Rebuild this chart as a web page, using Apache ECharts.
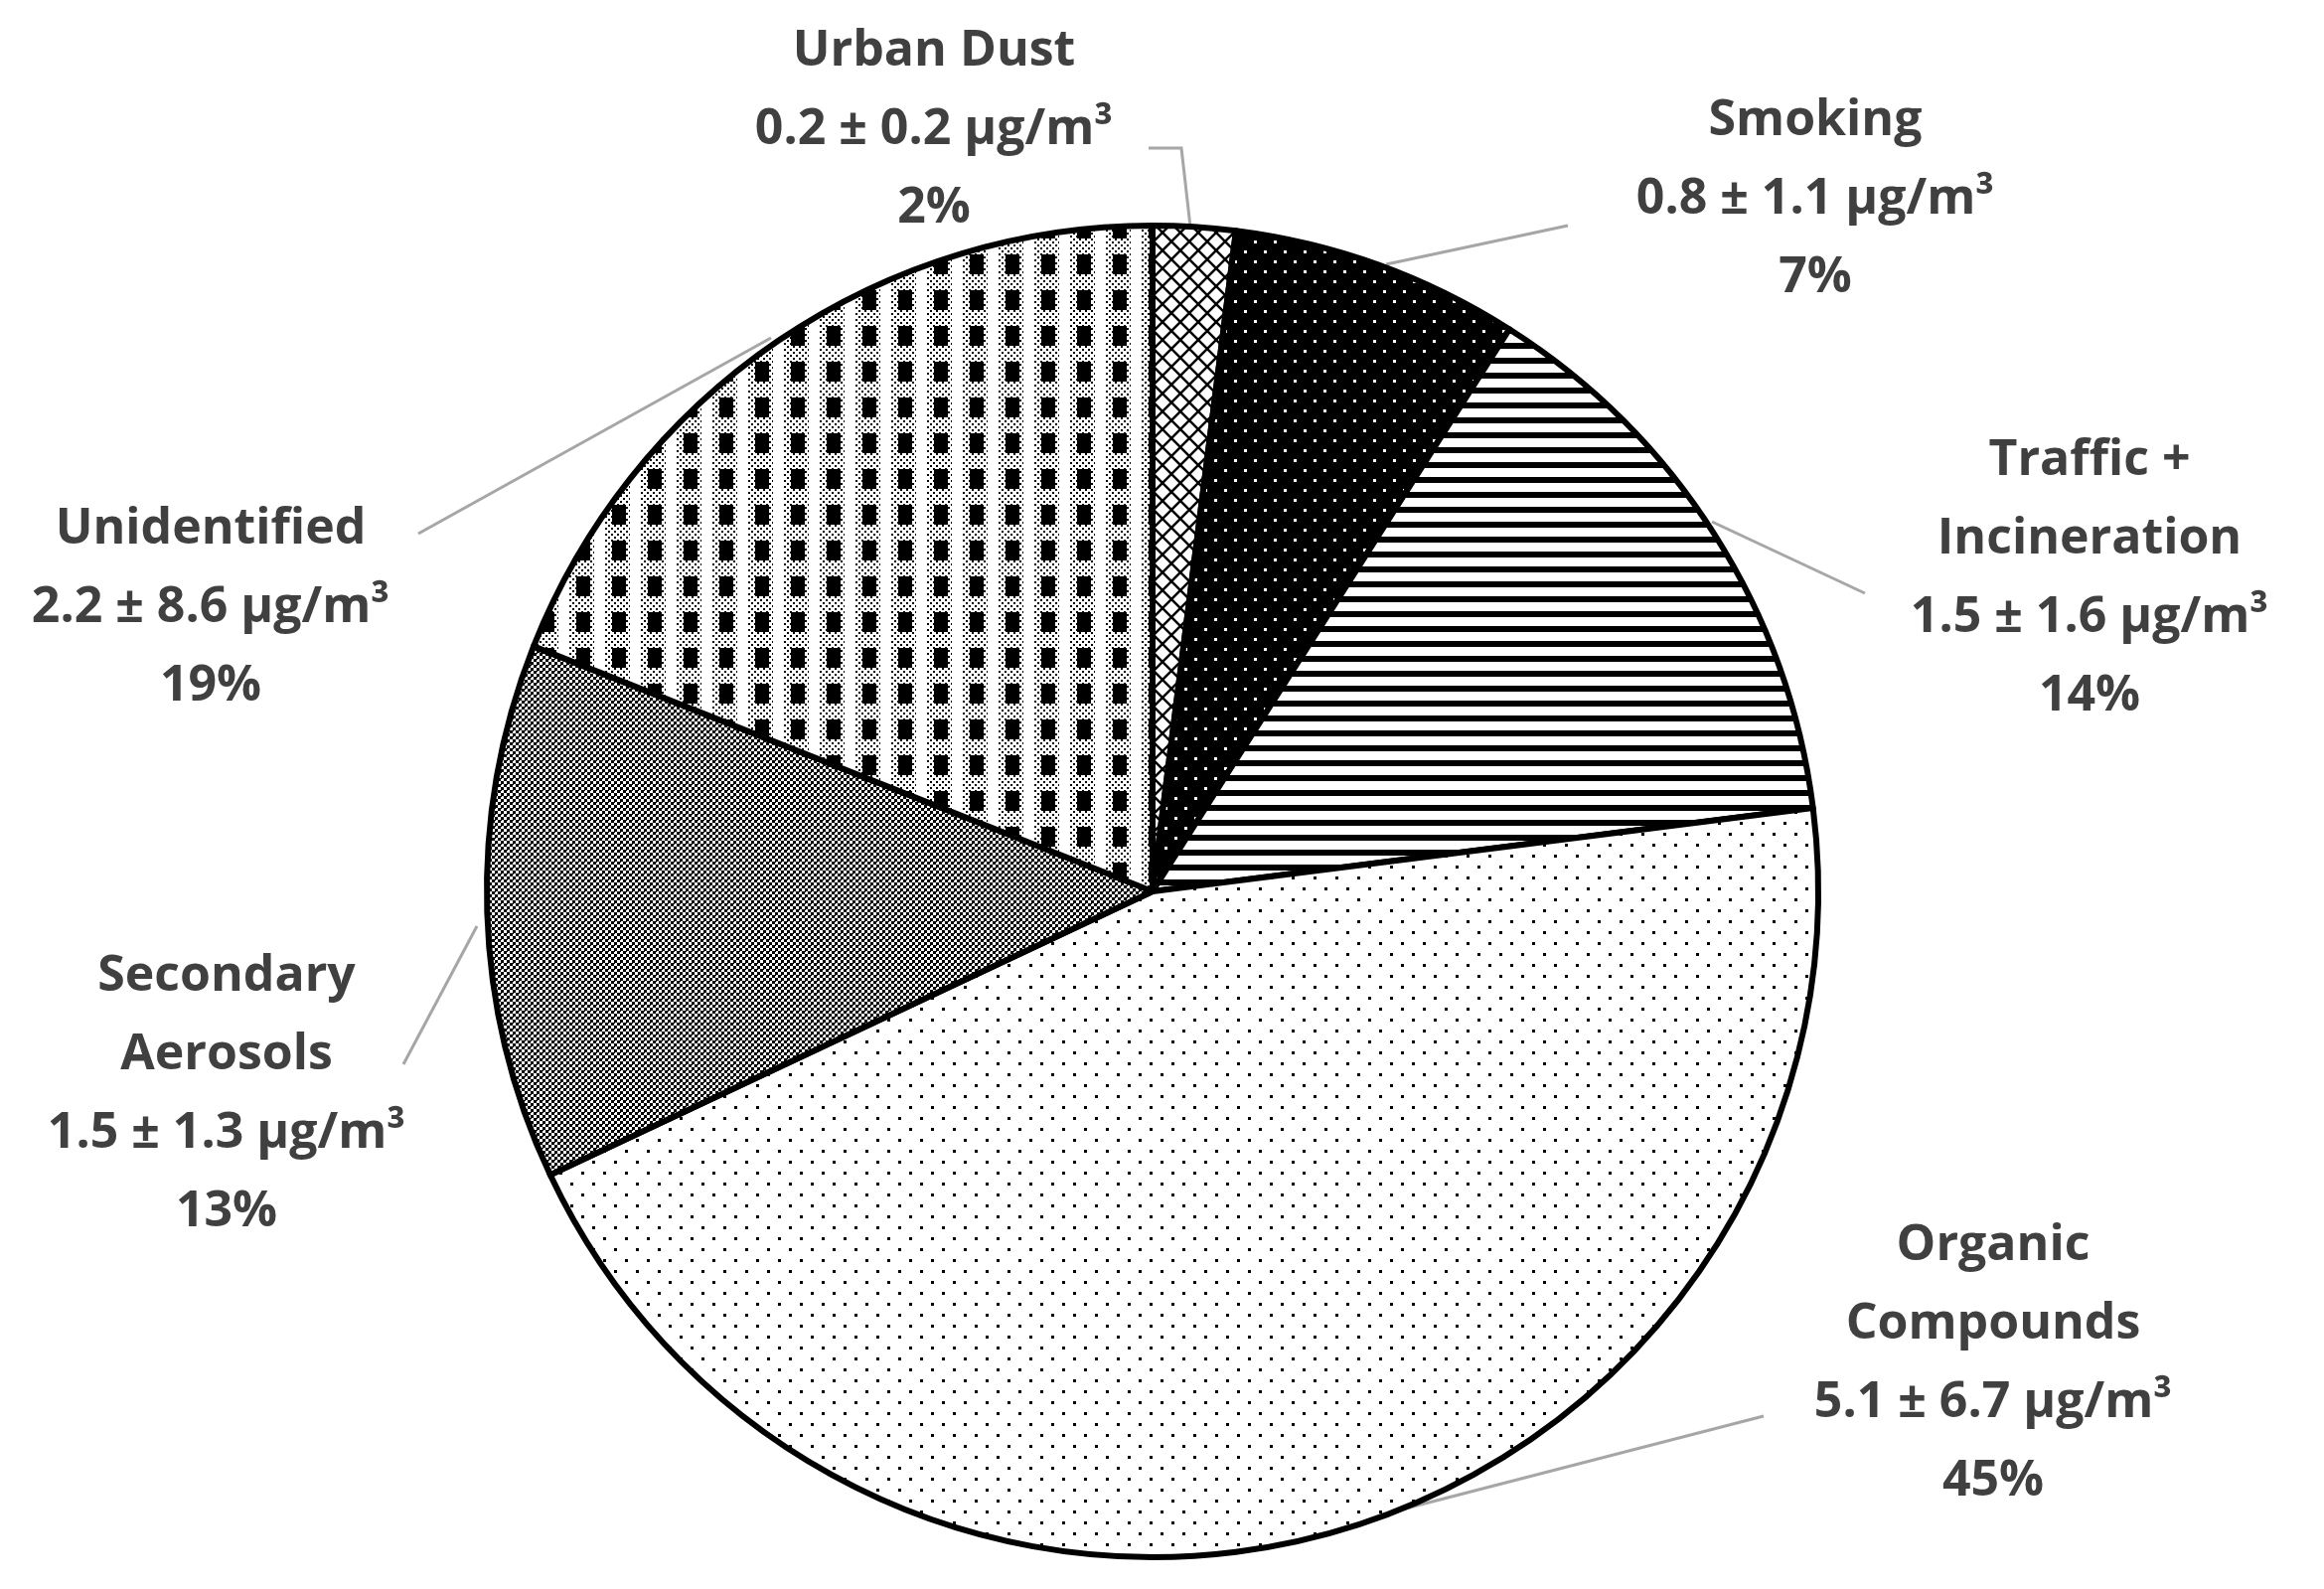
<!DOCTYPE html>
<html><head><meta charset="utf-8">
<script src="https://cdn.jsdelivr.net/npm/echarts@6/dist/echarts.min.js"></script>
<style>html,body{margin:0;padding:0;background:#fff}#c{width:2339px;height:1599px}</style>
</head><body><div id="c"></div>
<script>
const categories = ["Urban Dust","Smoking","Traffic +\nIncineration","Organic\nCompounds","Secondary\nAerosols","Unidentified"];
const means = ["0.2 ± 0.2","0.8 ± 1.1","1.5 ± 1.6","5.1 ± 6.7","1.5 ± 1.3","2.2 ± 8.6"];
const percents = [2,7,14,45,13,19];

function mk(w,h,fn){const c=document.createElement('canvas');c.width=w;c.height=h;const g=c.getContext('2d');fn(g);return {image:c,repeat:'repeat'};}
const pats=[
 mk(18,18,g=>{g.fillStyle='#fff';g.fillRect(0,0,18,18);g.strokeStyle='#000';g.lineWidth=2.5;g.beginPath();g.moveTo(0,0);g.lineTo(18,18);g.moveTo(18,0);g.lineTo(0,18);g.stroke();}),
 mk(20,20,g=>{g.fillStyle='#000';g.fillRect(0,0,20,20);g.fillStyle='#fff';g.fillRect(2,2,3,3);g.fillRect(12,12,3,3);}),
 mk(16,15,g=>{g.fillStyle='#fff';g.fillRect(0,0,16,15);g.fillStyle='#000';g.fillRect(0,0,16,6);}),
 mk(22,22,g=>{g.fillStyle='#fff';g.fillRect(0,0,22,22);g.fillStyle='#000';g.fillRect(2,2,3,3);g.fillRect(13,13,3,3);}),
 mk(6,6,g=>{g.fillStyle='#fff';g.fillRect(0,0,6,6);g.fillStyle='#000';g.fillRect(0,0,3,3);g.fillRect(3,3,3,3);g.fillRect(0,3,1,1);}),
 mk(36,36,g=>{g.fillStyle='#fff';g.fillRect(0,0,36,36);g.fillStyle='#000';for(let x=0;x<36;x+=3)for(let y=0;y<36;y+=3)if(((x+y)/3)%2===0)g.fillRect(x,y,2,2);g.fillRect(4,4,14,20);g.fillStyle='#fff';g.fillRect(22,0,10,36);})
];
const labelPos=[[940,131],[1827,201],[2103,582],[2006,1372],[228,1101],[212,612]];
const leaders=[
 [[1198,228],[1189,149],[1156,149]],
 [[1395,266],[1578,227],[1578,227]],
 [[1723,525],[1877,597],[1877,597]],
 [[1372,1529],[1775,1425],[1775,1425]],
 [[480,932],[406,1071],[406,1071]],
 [[776,340],[421,537],[421,537]]
];
const data=categories.map((n,i)=>({name:n,value:percents[i],itemStyle:{color:pats[i]}}));
const chart=echarts.init(document.getElementById('c'));
chart.setOption({
 animation:false,
 series:[{type:'pie',center:[1160,897],radius:670,startAngle:90,clockwise:true,
  data:data,
  itemStyle:{borderColor:'#000',borderWidth:6},
  label:{show:true,position:'outside',color:'#404040',fontFamily:'Open Sans',fontWeight:'bold',fontSize:50,lineHeight:79,align:'center',
   formatter:p=>p.name+'\n'+means[p.dataIndex]+' µg/m³\n'+percents[p.dataIndex]+'%'},
  labelLine:{show:true,lineStyle:{color:'#a6a6a6',width:3}},
  labelLayout:p=>({x:labelPos[p.dataIndex][0],y:labelPos[p.dataIndex][1],align:'center',verticalAlign:'middle',labelLinePoints:leaders[p.dataIndex]})
 }]
});
</script></body></html>
